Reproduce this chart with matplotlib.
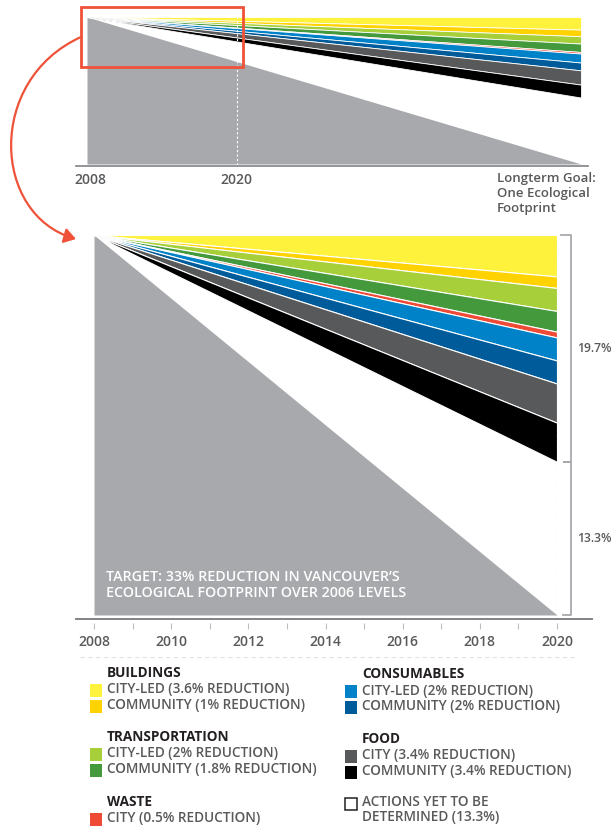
import matplotlib

matplotlib.use("Agg")
import matplotlib.pyplot as plt
import numpy as np
from matplotlib.patches import FancyArrowPatch, Rectangle
from matplotlib.path import Path
from matplotlib.transforms import blended_transform_factory

W, H = 613, 826
DPI = 100

plt.rcParams["font.family"] = ["Open Sans", "DejaVu Sans"]

# --- data -------------------------------------------------------------
YEARS = [2008, 2020]
TARGET = 33.0  # % reduction by 2020
UNDETERMINED = 13.3
REDUCTIONS = [3.6, 1.0, 2.0, 1.8, 0.5, 2.0, 2.0, 3.4, 3.4]
COLORS = ["#fff23c", "#ffd200", "#a7cf3a", "#43993c", "#ef4a36",
          "#0082c8", "#005b9b", "#58595b", "#000000"]

GROUPS = ["BUILDINGS", "TRANSPORTATION", "WASTE", "CONSUMABLES", "FOOD"]
ITEM_LABELS = [
    "CITY-LED (3.6% REDUCTION)", "COMMUNITY (1% REDUCTION)",
    "CITY-LED (2% REDUCTION)", "COMMUNITY (1.8% REDUCTION)",
    "CITY (0.5% REDUCTION)",
    "CITY-LED (2% REDUCTION)", "COMMUNITY (2% REDUCTION)",
    "CITY (3.4% REDUCTION)", "COMMUNITY (3.4% REDUCTION)",
]
GROUP_OF_ITEM = [0, 0, 1, 1, 2, 3, 3, 4, 4]

# overview chart: 2008 -> longterm goal (one ecological footprint)
OVERVIEW_YEARS = [2008, 2047.5]
OVERVIEW_WIDTHS = [8.6, 4.5, 5.0, 5.7, 1.1, 6.1, 5.3, 9.7, 8.8]  # % at goal end

GRAY = "#a7a9ac"
TEXT = "#58595b"
DARK = "#231f20"
RED = "#ef5238"
LEGEND_SIZE = 9.8

fig = plt.figure(figsize=(W / DPI, H / DPI), dpi=DPI)


def px_axes(left, top, right, bottom):
    return fig.add_axes([left / W, 1 - bottom / H, (right - left) / W, (bottom - top) / H])


# --- overview chart (top) ---------------------------------------------
ax_top = px_axes(87, 17, 581, 164)
ax_top.set_xlim(OVERVIEW_YEARS[0], OVERVIEW_YEARS[1])
ax_top.set_ylim(0, 100)
ax_top.fill_between(OVERVIEW_YEARS, [100, 0], 0, color=GRAY, lw=0)
cum = np.concatenate([[0], np.cumsum(OVERVIEW_WIDTHS)])
for i, c in enumerate(COLORS):
    ax_top.fill_between(OVERVIEW_YEARS, [100, 100 - cum[i]], [100, 100 - cum[i + 1]],
                        color=c, lw=0.6, edgecolor="white")
ax_top.plot([2020, 2020], [-1, 103], color="white", lw=0.8, ls=(0, (2, 2)), clip_on=False)
ax_top.axis("off")

# --- main chart (2008-2020) ------------------------------------------
top_px, floor_px = 235, 615
ppu = (floor_px - top_px) / TARGET
ax = px_axes(94, top_px, 557, 623)
ax.set_xlim(YEARS[0], YEARS[1])
ax.set_ylim(100 - TARGET - (623 - floor_px) / ppu, 100)
ax.fill_between(YEARS, [100, 100 - TARGET], 100 - TARGET, color=GRAY, lw=0)
cum = np.concatenate([[0], np.cumsum(REDUCTIONS)])
for i, c in enumerate(COLORS):
    ax.fill_between(YEARS, [100, 100 - cum[i]], [100, 100 - cum[i + 1]],
                    color=c, lw=0.8, edgecolor="white")
ax.plot([2020, 2020], [100 - TARGET, 100], color="#d1d3d4", lw=0.8, ls=(0, (3, 2)))
for s in ax.spines.values():
    s.set_visible(False)
ax.set_yticks([])
ax.set_xticks(range(2008, 2021))
ax.set_xticklabels([str(y) if y % 2 == 0 else "" for y in range(2008, 2021)])
ax.tick_params(axis="x", direction="out", length=4.5, width=0.8, color="#bcbec0",
               pad=4, labelsize=10, labelcolor=TEXT)
for lab in ax.get_xticklabels():
    lab.set_fontweight("semibold")

ax.text(2008.3, 100 - TARGET + 2.6,
        "TARGET: 33% REDUCTION IN VANCOUVER\u2019S\nECOLOGICAL FOOTPRINT OVER 2006 LEVELS",
        color="white", fontsize=10.3, fontweight="semibold", va="center", ha="left",
        linespacing=1.15)

# --- overlay for annotations -----------------------------------------
ov = fig.add_axes([0, 0, 1, 1])
ov.set_xlim(0, W)
ov.set_ylim(H, 0)
ov.axis("off")
ov.set_zorder(10)
ov.patch.set_visible(False)

# top axis
ov.plot([76, 588], [165.5, 165.5], color="#808285", lw=1.2)
ov.text(90, 180, "2008", ha="center", va="center", fontsize=10, color=TEXT, fontweight="semibold")
ov.text(236, 180, "2020", ha="center", va="center", fontsize=10, color=TEXT, fontweight="semibold")
ov.text(497, 172, "Longterm Goal:\nOne Ecological\nFootprint", ha="left", va="top",
        fontsize=9.5, color=TEXT, fontweight="semibold", linespacing=1.2)

# zoom box and arrow
ov.add_patch(Rectangle((81, 7), 162, 60, fill=False, edgecolor=RED, lw=2))
arrow_path = Path([(81, 37), (-14, 80), (-8, 215), (76, 239)],
                  [Path.MOVETO, Path.CURVE4, Path.CURVE4, Path.CURVE4])
ov.add_patch(FancyArrowPatch(path=arrow_path, arrowstyle="-|>,head_length=7,head_width=4.5",
                             color=RED, lw=1.6))

# main axis line and dashed rule
ov.plot([76, 592], [618.5, 618.5], color="#808285", lw=1.4)
ov.plot([80, 575], [657, 657], color="#e1e2e3", lw=0.8, ls=(0, (4, 3)))

# bracket on the right
tr = blended_transform_factory(ov.transData, ax.transData)
split = 100 - sum(REDUCTIONS)
ov.plot([561, 571, 571, 564], [100, 100, split, split], color=GRAY, lw=1.3, transform=tr, clip_on=False)
ov.plot([564, 571, 571, 563], [split, split, 100 - TARGET, 100 - TARGET], color=GRAY, lw=1.3,
        transform=tr, clip_on=False)
ov.text(577, (100 + split) / 2, f"{sum(REDUCTIONS):.1f}%", transform=tr, fontsize=8.7,
        color=TEXT, va="center", ha="left", fontweight="semibold")
ov.text(577, (split + 100 - TARGET) / 2, f"{UNDETERMINED}%", transform=tr, fontsize=8.7,
        color=TEXT, va="center", ha="left", fontweight="semibold")

# --- legend -----------------------------------------------------------
group_pos = [(107, 673), (107, 737), (107, 801.5), (362, 674), (362, 739)]
for g, (gx, gy) in zip(GROUPS, group_pos):
    ov.text(gx, gy, g, fontsize=LEGEND_SIZE, fontweight="bold", color=DARK, va="center", ha="left")

row_in_group = {}
for i, (lab, g) in enumerate(zip(ITEM_LABELS, GROUP_OF_ITEM)):
    r = row_in_group.get(g, 0)
    row_in_group[g] = r + 1
    gx, gy = group_pos[g]
    ty = gy + 16.5 + r * 15.5
    ov.add_patch(Rectangle((gx - 17, ty - 5.5), 11.5, 13, facecolor=COLORS[i], lw=0))
    ov.text(gx, ty, lab, fontsize=LEGEND_SIZE, color=TEXT, va="center", ha="left",
            fontweight="semibold")

ov.add_patch(Rectangle((345, 797.5), 12, 12, fill=False, edgecolor=DARK, lw=1.1))
ov.text(362, 802.5, "ACTIONS YET TO BE", fontsize=LEGEND_SIZE, color=TEXT, va="center",
        ha="left", fontweight="semibold")
ov.text(362, 817.5, f"DETERMINED ({UNDETERMINED}%)", fontsize=LEGEND_SIZE, color=TEXT,
        va="center", ha="left", fontweight="semibold")

fig.savefig("out.png", dpi=DPI)
